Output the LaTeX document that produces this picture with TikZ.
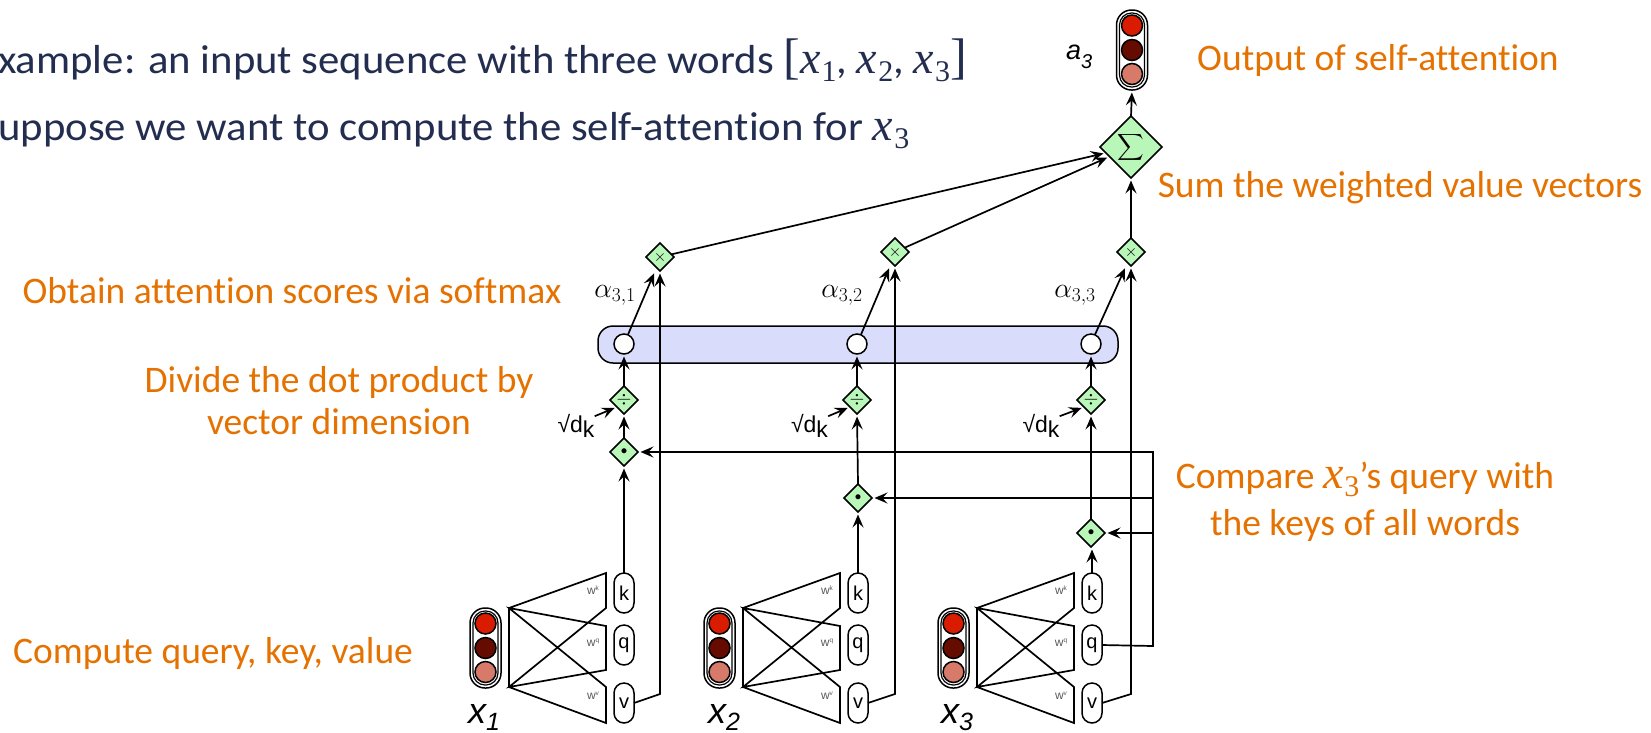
\RequirePackage{fix-cm}
\documentclass[tikz,border=0pt]{standalone}
\usepackage{fontspec}
\usepackage{graphicx}
\setmainfont[Ligatures=CommonOff]{Carlito}
\newfontfamily\headfont[FakeStretch=1.055,Ligatures=CommonOff]{Carlito}
\newfontfamily\helv{Liberation Sans}
\newfontfamily\mth{Liberation Serif}
\usetikzlibrary{arrows.meta,shapes.geometric,calc}
\definecolor{orangetxt}{HTML}{E57200}
\definecolor{navytxt}{HTML}{222D50}
\definecolor{dmgreen}{HTML}{B9F7B9}
\definecolor{barblue}{HTML}{DADCFB}
\definecolor{redA}{HTML}{D91C00}
\definecolor{redB}{HTML}{650B00}
\definecolor{redC}{HTML}{D87A6A}
\newcommand{\varx}[1]{{\mth\itshape\fontsize{46}{50}\selectfont x}\kern1pt\raisebox{-8pt}{\mth\fontsize{30}{30}\selectfont #1}}
\tikzset{
  base/.style={line width=1.7pt,draw=black},
  arrowline/.style={base,-{Stealth[length=13pt,width=11pt,inset=5pt]},shorten >=2.5pt},
  op/.style={diamond,aspect=1,draw=black,line width=1.5pt,fill=dmgreen,inner sep=0pt,outer sep=0pt,minimum size=28pt,font=\fontsize{16}{16}\selectfont},
  sigmaop/.style={op,minimum size=62pt},
  pill/.style={rectangle,rounded corners=10pt,draw=black,line width=1.5pt,fill=white,minimum width=20pt,minimum height=40pt,inner sep=0pt,outer sep=0pt,font=\helv\fontsize{20}{20}\selectfont},
  lamp/.style={circle,draw=black,line width=1.5pt,minimum size=21pt,inner sep=0pt,outer sep=0pt},
  lightcase/.style={rectangle,rounded corners=15pt,draw=black,line width=1.5pt,fill=white,minimum width=31pt,minimum height=80pt,inner sep=0pt,outer sep=0pt},
  lightinner/.style={rectangle,rounded corners=12pt,draw=black,line width=1.2pt,fill=white,minimum width=25pt,minimum height=74pt,inner sep=0pt,outer sep=0pt},
  softcirc/.style={circle,draw=black,line width=1.5pt,fill=white,minimum size=20pt,inner sep=0pt,outer sep=0pt},
  note/.style={text=orangetxt,font=\fontsize{37.5}{42}\selectfont,align=center,inner sep=0pt},
  head/.style={text=navytxt,font=\headfont\fontsize{40.5}{50}\selectfont,anchor=base west,inner sep=0pt},
  wlabel/.style={text=black!65,font=\helv\fontsize{12}{12}\selectfont,inner sep=0pt},
  alphalabel/.style={inner sep=0pt,font=\fontsize{28}{28}\selectfont},
  sqlabel/.style={inner sep=0pt,font=\helv\fontsize{23}{23}\selectfont},
  xlabel/.style={inner sep=0pt,anchor=base west,font=\helv\itshape\fontsize{36}{36}\selectfont},
  wedge/.style={base,line join=miter}
}
\newcommand{\lights}[3]{%
  \node[lightcase] (#1case) at (#2,#3) {};
  \node[lightinner] (#1inner) at (#2,#3) {};
  \node[lamp,fill=redA] (#1a) at (#2,#3-24.5) {};
  \node[lamp,fill=redB] (#1b) at (#2,#3) {};
  \node[lamp,fill=redC] (#1c) at (#2,#3+24) {};
}
\newcommand{\encoder}[2]{% name, x offset
  \lights{L#1}{485.5+#2}{648}
  \coordinate (#1tl) at (509+#2,608);
  \coordinate (#1bl) at (509+#2,687);
  \draw[wedge] (#1bl) -- (#1tl) -- (606+#2,573) -- (606+#2,608) -- (#1bl) -- (606+#2,670) -- (606+#2,626) -- (#1tl) -- (606+#2,687) -- (606+#2,723) -- (#1bl);
  \node[pill] (k#1) at (624+#2,593) {k};
  \node[pill] (q#1) at (624+#2,645) {q};
  \node[pill] (v#1) at (624+#2,703) {v};
  \node[wlabel] (wk#1) at (593+#2,590) {w\raisebox{4pt}{\fontsize{6.5}{6.5}\selectfont k}};
  \node[wlabel] (wq#1) at (593+#2,643) {w\raisebox{4pt}{\fontsize{6.5}{6.5}\selectfont q}};
  \node[wlabel] (wv#1) at (593+#2,696) {w\raisebox{4pt}{\fontsize{6.5}{6.5}\selectfont v}};
}
\begin{document}
\begin{tikzpicture}[x=1pt,y=-1pt]
\useasboundingbox (0,0) rectangle (1651,732);
% score bar
\node[rectangle,rounded corners=15pt,draw=black,line width=1.5pt,fill=barblue,minimum width=520pt,minimum height=37pt,inner sep=0pt] (bar) at (858,344.5) {};
% encoders
\encoder{1}{0}
\encoder{2}{234}
\encoder{3}{468}
% operators
\node[op,font=\fontsize{13}{13}\selectfont] (dot1) at (624,452) {$\bullet$};
\node[op,font=\fontsize{13}{13}\selectfont] (dot2) at (858,498) {$\bullet$};
\node[op,font=\fontsize{13}{13}\selectfont] (dot3) at (1091,533) {$\bullet$};
\node[op,font=\fontsize{19}{19}\selectfont] (div1) at (624,400) {$\div$};
\node[op,font=\fontsize{19}{19}\selectfont] (div2) at (857,400) {$\div$};
\node[op,font=\fontsize{19}{19}\selectfont] (div3) at (1091,400) {$\div$};
\node[softcirc] (c1) at (624,344) {};
\node[softcirc] (c2) at (857,344) {};
\node[softcirc] (c3) at (1091,344) {};
\node[op] (t1) at (660,257) {$\times$};
\node[op] (t2) at (895,252) {$\times$};
\node[op] (t3) at (1131,252) {$\times$};
\node[sigmaop] (sig) at (1131,147) {\scalebox{1.85}{$\displaystyle\sum$}};
\lights{Lout}{1132}{50}
% connectors
\foreach \i in {1,2,3}{
  \draw[arrowline] (k\i.north) -- (k\i.north |- dot\i.south);
  \draw[arrowline] (dot\i.north) -- (div\i.south);
  \draw[arrowline] (div\i.north) -- (c\i.south);
  \draw[arrowline] (c\i.67) -- ([xshift=-5pt]t\i.south);
}
\coordinate (v1c) at (660,694);
\coordinate (v2c) at (895,694);
\coordinate (v3c) at (1131,694);
\draw[arrowline] (v1.east) -- (v1c) -- (t1.south);
\draw[arrowline] (v2.east) -- (v2c) -- (t2.south);
\draw[arrowline] (v3.east) -- (v3c) -- (t3.south);
\coordinate (qc) at (1153,646);
\coordinate (qt) at (1153,452);
\draw[arrowline] (q3.east) -- (qc) -- (qt) -- (dot1.east);
\draw[arrowline] (qc |- dot2) -- (dot2.east);
\draw[arrowline] (qc |- dot3) -- (dot3.east);
\draw[arrowline] (t1) -- (sig);
\draw[arrowline] (t2) -- (sig);
\draw[arrowline] (t3.north) -- (sig.south);
\draw[arrowline] (sig.north) -- (Loutcase.south);
% sqrt labels
\node[sqlabel] (s1) at (576,426) {√d\raisebox{-5pt}{k}};
\node[sqlabel] (s2) at (809.5,426) {√d\raisebox{-5pt}{k}};
\node[sqlabel] (s3) at (1041,426) {√d\raisebox{-5pt}{k}};
\draw[arrowline] ([yshift=-2pt]s1.north east) -- (div1.south west);
\draw[arrowline] ([yshift=-2pt]s2.north east) -- (div2.south west);
\draw[arrowline] ([yshift=-2pt]s3.north east) -- (div3.south west);
% alpha labels
\node[alphalabel] (al1) at (615,295) {$\alpha_{3,1}$};
\node[alphalabel] (al2) at (842,295) {$\alpha_{3,2}$};
\node[alphalabel] (al3) at (1075,295) {$\alpha_{3,3}$};
% term labels
\node[xlabel] (x1) at (468,723) {x\raisebox{-7pt}{\fontsize{25}{25}\selectfont 1}};
\node[xlabel] (x2) at (708,723) {x\raisebox{-7pt}{\fontsize{25}{25}\selectfont 2}};
\node[xlabel] (x3) at (941,723) {x\raisebox{-7pt}{\fontsize{25}{25}\selectfont 3}};
\node[inner sep=0pt,anchor=base west,font=\helv\itshape\fontsize{27}{27}\selectfont] (a3) at (1066,59) {a\raisebox{-9pt}{\fontsize{20}{20}\selectfont 3}};
% text
\node[head] (h1) at (-2,73) {xample: an input sequence with three words {\mth\fontsize{50}{50}\selectfont[}\varx{1}, \varx{2}, \varx{3}{\mth\fontsize{50}{50}\selectfont]}};
\node[head] (h2) at (-2,140) {uppose we want to compute the self-attention for \varx{3}};
\node[note,anchor=base] (n1) at (1378,70) {Output of self-attention};
\node[note,anchor=base] (n2) at (1400,197) {Sum the weighted value vectors};
\node[note] (n3) at (292,291) {Obtain attention scores via softmax};
\node[note] (n4) at (339,401) {Divide the dot product by\\vector dimension};
\node[note,font=\fontsize{37.5}{47}\selectfont] (n5) at (1365,502) {Compare \varx{3}’s query with\\the keys of all words};
\node[note] (n6) at (213,653) {Compute query, key, value};
\end{tikzpicture}
\end{document}
